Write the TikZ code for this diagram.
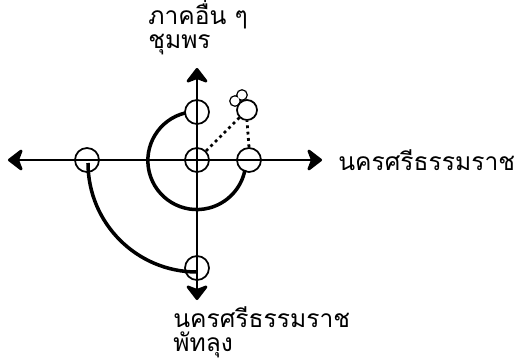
\documentclass[tikz,border=0pt]{standalone}
\usepackage{fontspec}
\newfontfamily\thaifont[Script=Thai]{Loma}
\usetikzlibrary{arrows.meta}

\begin{document}
\begin{tikzpicture}[
	x=0.02cm, y=0.02cm,
	ring/.style={draw, circle, inner sep=0pt, minimum size=24*0.02cm, line width=1pt},
	axis/.style={line width=1.6pt, -{Stealth[length=0.34cm, width=0.52cm, inset=0.1cm, round]}},
	path/.style={line width=2pt},
	hint/.style={dotted, line width=1.6pt},
	label/.style={font=\thaifont\fontsize{14}{13.6}\selectfont, align=left, inner sep=0pt}
	]
	\useasboundingbox (-197,-202) rectangle (320,160);

	\coordinate (o) at (0,0);
	\coordinate (west) at (-189,0);
	\coordinate (east) at (125,0);
	\coordinate (north) at (0,92);
	\coordinate (south) at (0,-140);

	\draw[axis] (o) -- (west);
	\draw[axis] (o) -- (east);
	\draw[axis] (o) -- (north);
	\draw[axis] (o) -- (south);

	\node[ring] (c0) at (0,0) {};
	\node[ring] (cn) at (0,48) {};
	\node[ring] (ce) at (52,0) {};
	\node[ring] (cw) at (-110,0) {};
	\node[ring] (cs) at (0,-108) {};

	% the small one up right
	\draw[line width=1pt] (38,59) circle[radius=5] (45,65) circle[radius=5];
	\fill[white] (38,59) circle[radius=4.5] (45,65) circle[radius=4.5];
	\node[ring, fill=white, minimum size=20*0.02cm] (cx) at (50,50) {};

	\draw[hint] (c0.north east) -- (cx.south west);
	\draw[hint] (ce.north) -- (cx.south);

	\draw[path] (cn.center) ++(-12,-1) arc[start angle=104, end angle=349, radius=49];
	\draw[path] (cw.center) ++(1,-3) arc[start angle=180, end angle=270, radius=109];

	\node[label, anchor=north west] (top) at (-49,161) {ภาคอื่น ๆ\\ชุมพร};
	\node[label, anchor=west] (right) at (141,0) {นครศรีธรรมราช};
	\node[label, anchor=north west] (bottom) at (-24,-146) {นครศรีธรรมราช\\พัทลุง};
\end{tikzpicture}
\end{document}
